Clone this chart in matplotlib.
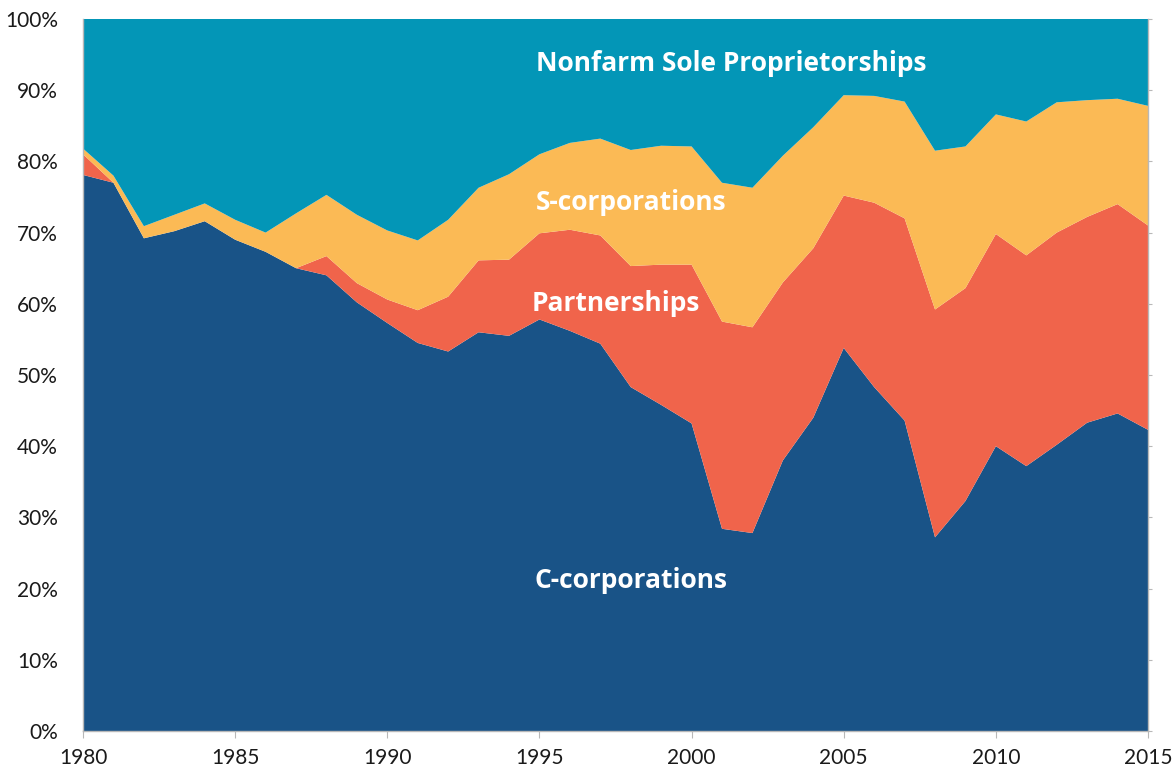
import matplotlib.pyplot as plt
import numpy as np

years = list(range(1980, 2016))

# shares of businesses, percent
c_corps = [78.1, 77.0, 69.2, 70.2, 71.6, 69.0, 67.3, 65.0, 64.0, 60.2, 57.3, 54.5,
           53.3, 56.0, 55.5, 57.8, 56.2, 54.4, 48.3, 45.8, 43.2, 28.4, 27.8, 38.0,
           44.0, 53.8, 48.3, 43.6, 27.2, 32.3, 40.0, 37.2, 40.2, 43.3, 44.6, 42.3]
partnerships = [2.9, 0.0, 0.0, 0.0, 0.0, 0.0, 0.0, 0.0, 2.7, 2.7, 3.3, 4.6,
                7.7, 10.1, 10.7, 12.1, 14.2, 15.2, 17.0, 19.7, 22.3, 29.1, 28.9, 25.0,
                23.8, 21.4, 25.9, 28.4, 32.0, 29.9, 29.8, 29.6, 29.8, 28.9, 29.4, 28.7]
s_corps = [0.8, 1.0, 1.7, 2.3, 2.5, 2.8, 2.7, 7.7, 8.6, 9.6, 9.7, 9.8,
           10.8, 10.2, 12.0, 11.1, 12.2, 13.6, 16.3, 16.7, 16.6, 19.5, 19.6, 17.8,
           17.0, 14.1, 15.0, 16.4, 22.3, 19.9, 16.8, 18.8, 18.3, 16.4, 14.8, 16.8]
sole_props = [18.2, 22.0, 29.1, 27.5, 25.9, 28.2, 30.0, 27.3, 24.7, 27.5, 29.7, 31.1,
              28.2, 23.7, 21.8, 19.0, 17.4, 16.8, 18.4, 17.8, 17.9, 23.0, 23.7, 19.2,
              15.2, 10.7, 10.8, 11.6, 18.5, 17.9, 13.4, 14.4, 11.7, 11.4, 11.2, 12.2]

names = ['C-corporations', 'Partnerships', 'S-corporations', 'Nonfarm Sole Proprietorships']
colors = ['#195387', '#f0644b', '#fbba55', '#0396b7']

plt.rcParams['font.family'] = ['Lato', 'DejaVu Sans']

fig = plt.figure(figsize=(11.76, 7.72), dpi=100)
ax = fig.add_axes([0.0706, 0.0531, 0.9056, 0.9223])

ax.stackplot(years, c_corps, partnerships, s_corps, sole_props, colors=colors,
             linewidth=0)

ax.set_xlim(1980, 2015)
ax.set_ylim(0, 100)
ax.set_xticks(range(1980, 2016, 5))
ax.set_yticks(range(0, 101, 10))
ax.set_yticklabels([f'{v}%' for v in range(0, 101, 10)])

for s in ['left', 'bottom', 'right']:
    ax.spines[s].set_color('#b8b8b8')
    ax.spines[s].set_linewidth(1)
ax.spines['top'].set_visible(False)

ax.tick_params(axis='x', length=5, color='#b8b8b8', pad=7, labelsize=15,
               labelcolor='#1a1a1a')
ax.tick_params(axis='y', left=False, right=True, length=3, color='#b8b8b8',
               pad=15, labelsize=15, labelcolor='#1a1a1a')

label_pos = {
    'Nonfarm Sole Proprietorships': (2001.3, 93.8),
    'S-corporations': (1998.0, 74.2),
    'Partnerships': (1997.5, 60.1),
    'C-corporations': (1998.0, 21.1),
}
for name, (x, y) in label_pos.items():
    ax.text(x, y, name, color='white', fontsize=19, fontweight='bold',
            family=['Open Sans', 'DejaVu Sans'], ha='center', va='center')

fig.savefig('out.png', dpi=100)
